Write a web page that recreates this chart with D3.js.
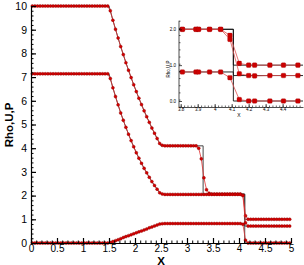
<!DOCTYPE html>
<html lang="en">
<head>
  <meta charset="UTF-8">
  <title>Rho,U,P</title>
  <script src="https://d3js.org/d3.v7.min.js"></script>
  <style>
    body { margin: 0; background: #fff; font-family: "Liberation Sans", Arial, sans-serif; }
    .tick text { font-family: "Liberation Sans", Arial, sans-serif; fill: #000; }
  </style>
</head>
<body>
  <svg width="304" height="265"></svg>

  <script>
    // uniform mesh, cell centres
    const xMesh = d3.range(100).map(i => 0.025 + 0.05 * i);

    const rho = [
      10,10,10,10,10,10,10,10,10,10, 10,10,10,10,10,10,10,10,10,10, 10,10,10,10,10,10,10,10,10,10,
      9.80,9.40,9.02,8.65,8.29,7.95,7.61,7.29,6.98,6.68, 6.39,6.11,5.84,5.58,5.33,5.09,4.85,4.63,4.41,4.20,
      4.12,4.1,4.1,4.1,4.1,4.1,4.1,4.1,4.1,4.1, 4.1,4.1,4.1,4.1,4.0,3.55,2.75,2.25,2.1,2.07,
      2.07,2.07,2.07,2.07,2.07,2.07,2.07,2.07,2.07,2.07, 2.07,2.02,1.15,1,1,1,1,1,1,1,
      1,1,1,1,1,1,1,1,1,1
    ];
    const pres = [
      7.14,7.14,7.14,7.14,7.14,7.14,7.14,7.14,7.14,7.14, 7.14,7.14,7.14,7.14,7.14,7.14,7.14,7.14,7.14,7.14,
      7.14,7.14,7.14,7.14,7.14,7.14,7.14,7.14,7.14,7.14,
      6.94,6.55,6.18,5.83,5.49,5.18,4.88,4.59,4.32,4.06, 3.81,3.58,3.36,3.15,2.96,2.77,2.59,2.43,2.27,2.12,
      2.07,2.05,2.05,2.05,2.05,2.05,2.05,2.05,2.05,2.05, 2.05,2.05,2.05,2.05,2.05,2.05,2.05,2.05,2.05,2.05,
      2.05,2.05,2.05,2.05,2.05,2.05,2.05,2.05,2.05,2.05, 2.05,2.0,0.85,0.714,0.714,0.714,0.714,0.714,0.714,0.714,
      0.714,0.714,0.714,0.714,0.714,0.714,0.714,0.714,0.714,0.714
    ];
    const vel = [
      0,0,0,0,0,0,0,0,0,0, 0,0,0,0,0,0,0,0,0,0, 0,0,0,0,0,0,0,0,0,0,
      0.02,0.06,0.10,0.14,0.18,0.23,0.27,0.31,0.35,0.39, 0.43,0.47,0.51,0.55,0.59,0.64,0.68,0.72,0.76,0.80,
      0.815,0.82,0.82,0.82,0.82,0.82,0.82,0.82,0.82,0.82, 0.82,0.82,0.82,0.82,0.82,0.82,0.82,0.82,0.82,0.82,
      0.82,0.82,0.82,0.82,0.82,0.82,0.82,0.82,0.82,0.82, 0.82,0.79,0.12,0,0,0,0,0,0,0,
      0,0,0,0,0,0,0,0,0,0
    ];

    // exact solution breakpoints (rarefaction fan taken from mesh points 30..49)
    const exactX   = [0, 1.5, 2.5, 3.31, 3.31, 4.11, 4.11, 5];
    const exactRho = [10, 10, 4.1, 4.1, 2.07, 2.07, 1, 1];
    const exactP   = [7.14, 7.14, 2.05, 2.05, 2.05, 2.05, 0.714, 0.714];
    const exactU   = [0, 0, 0.82, 0.82, 0.82, 0.82, 0, 0];

    // inset: close-up of the shock
    const insetX   = [3.81, 3.89, 3.905, 3.97, 4.035, 4.09, 4.145, 4.20, 4.235, 4.325, 4.405, 4.49];
    const insetRho = [2.0, 2.0, 2.0, 2.0, 2.0, 1.83, 1.05, 1.0, 1.0, 1.0, 1.0, 1.0];
    const insetP   = [2.0, 2.0, 2.0, 2.0, 2.0, 1.72, 0.76, 0.71, 0.70, 0.71, 0.71, 0.71];
    const insetU   = [0.81, 0.81, 0.81, 0.81, 0.81, 0.65, 0.04, 0.0, 0.0, 0.0, 0.0, 0.0];
    const insetExX   = [3.79, 4.11, 4.11, 4.52];
    const insetExRho = [2.0, 2.0, 1.0, 1.0];
    const insetExP   = [2.0, 2.0, 0.71, 0.71];
    const insetExU   = [0.81, 0.81, 0, 0];

    const xTicks = [0, 0.5, 1, 1.5, 2, 2.5, 3, 3.5, 4, 4.5, 5];
    const yTicks = [0, 1, 2, 3, 4, 5, 6, 7, 8, 9, 10];
    const insetXTicks = [3.8, 3.9, 4, 4.1, 4.2, 4.3, 4.4];
    const insetYTicks = [0, 1, 2];

    const svg = d3.select("svg");
    const red = "#d40000", redDark = "#8a0000", lineRed = "#e03030";

    // ---------- main plot ----------
    const x = d3.scaleLinear().domain([0, 5]).range([31, 291]);
    const y = d3.scaleLinear().domain([0, 10]).range([243, 6]);

    const exactPath = (vals, num) => {
      const pts = [[exactX[0], vals[0]], [exactX[1], vals[1]]];
      for (let i = 30; i < 50; i++) pts.push([xMesh[i], num[i]]);
      for (let k = 2; k < exactX.length; k++) pts.push([exactX[k], vals[k]]);
      return pts;
    };
    const line = d3.line().x(d => x(d[0])).y(d => y(d[1]));

    [[exactRho, rho], [exactP, pres], [exactU, vel]].forEach(([ex, num]) => {
      svg.append("path").attr("d", line(exactPath(ex, num)))
        .attr("fill", "none").attr("stroke", "#333").attr("stroke-width", 0.9);
    });

    [rho, pres, vel].forEach(s => {
      const pts = s.map((v, i) => [xMesh[i], v]);
      svg.append("path").attr("d", line(pts))
        .attr("fill", "none").attr("stroke", lineRed).attr("stroke-width", 0.8);
      svg.append("g").selectAll("circle").data(pts).join("circle")
        .attr("cx", d => x(d[0])).attr("cy", d => y(d[1])).attr("r", 1.5)
        .attr("fill", red).attr("stroke", redDark).attr("stroke-width", 0.4);
    });

    // axes, ticks pointing inward
    svg.append("g").attr("transform", "translate(0,243)")
      .call(d3.axisBottom(x).tickValues(d3.range(0, 5.001, 0.1)).tickSize(-2.5).tickFormat(""))
      .call(g => g.select(".domain").remove());
    svg.append("g").attr("transform", "translate(0,243)")
      .call(d3.axisBottom(x).tickValues(xTicks).tickSize(-5).tickSizeOuter(0).tickPadding(2)
        .tickFormat(d3.format("")))
      .call(g => g.selectAll("text").attr("font-size", 10))
      .call(g => g.selectAll("line,.domain").attr("stroke", "#000").attr("stroke-width", 1.2));

    svg.append("g").attr("transform", "translate(31,0)")
      .call(d3.axisLeft(y).tickValues(d3.range(0, 10.001, 0.2)).tickSize(-2.5).tickFormat(""))
      .call(g => g.select(".domain").remove());
    svg.append("g").attr("transform", "translate(31,0)")
      .call(d3.axisLeft(y).tickValues(yTicks).tickSize(-5).tickSizeOuter(0).tickPadding(4))
      .call(g => g.selectAll("text").attr("font-size", 10.5))
      .call(g => g.selectAll("line,.domain").attr("stroke", "#000").attr("stroke-width", 1.2));

    svg.append("text").attr("x", 161).attr("y", 264.5).attr("text-anchor", "middle")
      .attr("font-size", 11.5).attr("font-weight", "bold").text("X");
    svg.append("text").attr("transform", "translate(13,125) rotate(-90)").attr("text-anchor", "middle")
      .attr("font-size", 11.5).attr("font-weight", "bold").text("Rho,U,P");

    // ---------- inset ----------
    const ix = d3.scaleLinear().domain([3.79, 4.52]).range([179, 303]);
    const iy = d3.scaleLinear().domain([0, 2]).range([101, 29.3]);
    const iline = d3.line().x(d => ix(d[0])).y(d => iy(d[1]));

    [insetExRho, insetExP, insetExU].forEach(s => {
      svg.append("path").attr("d", iline(s.map((v, i) => [insetExX[i], v])))
        .attr("fill", "none").attr("stroke", "#111").attr("stroke-width", 0.9);
    });
    [insetRho, insetP, insetU].forEach(s => {
      const pts = s.map((v, i) => [insetX[i], v]);
      svg.append("path").attr("d", iline(pts))
        .attr("fill", "none").attr("stroke", "#e05050").attr("stroke-width", 0.8);
      svg.append("g").selectAll("rect").data(pts).join("rect")
        .attr("x", d => ix(d[0]) - 2.3).attr("y", d => iy(d[1]) - 2.3)
        .attr("width", 4.6).attr("height", 4.6).attr("rx", 1)
        .attr("fill", "#cc0000").attr("stroke", "#a00000").attr("stroke-width", 0.3);
    });

    svg.append("g").attr("transform", "translate(0,107)")
      .call(d3.axisBottom(ix).tickValues(d3.range(3.8, 4.52, 0.02)).tickSize(-1.5).tickFormat(""))
      .call(g => g.select(".domain").remove())
      .call(g => g.selectAll("line").attr("stroke-width", 0.6));
    svg.append("g").attr("transform", "translate(0,107)")
      .call(d3.axisBottom(ix).tickValues(insetXTicks).tickSize(-3).tickSizeOuter(0).tickPadding(1)
        .tickFormat(d3.format("")))
      .call(g => g.selectAll("text").attr("font-size", 4.5))
      .call(g => g.selectAll("line,.domain").attr("stroke-width", 0.7));

    svg.append("g").attr("transform", "translate(179,0)")
      .call(d3.axisLeft(iy).tickValues(d3.range(-0.16, 2.24, 0.2)).tickSize(-1.5).tickFormat(""))
      .call(g => g.select(".domain").remove())
      .call(g => g.selectAll("line").attr("stroke-width", 0.6));
    svg.append("g").attr("transform", "translate(179,0)")
      .call(d3.axisLeft(iy).tickValues(insetYTicks).tickSize(-3).tickSizeOuter(0).tickPadding(3))
      .call(g => g.select(".domain").attr("d", `M0,${iy(2.24)}V107`))
      .call(g => g.selectAll("text").attr("font-size", 4.5))
      .call(g => g.selectAll("line,.domain").attr("stroke-width", 0.7));

    svg.append("text").attr("x", 239).attr("y", 117).attr("text-anchor", "middle")
      .attr("font-size", 5).text("X");
    svg.append("text").attr("transform", "translate(169.5,69) rotate(-90)").attr("text-anchor", "middle")
      .attr("font-size", 4.5).text("Rho,U,P");
  </script>
</body>
</html>
